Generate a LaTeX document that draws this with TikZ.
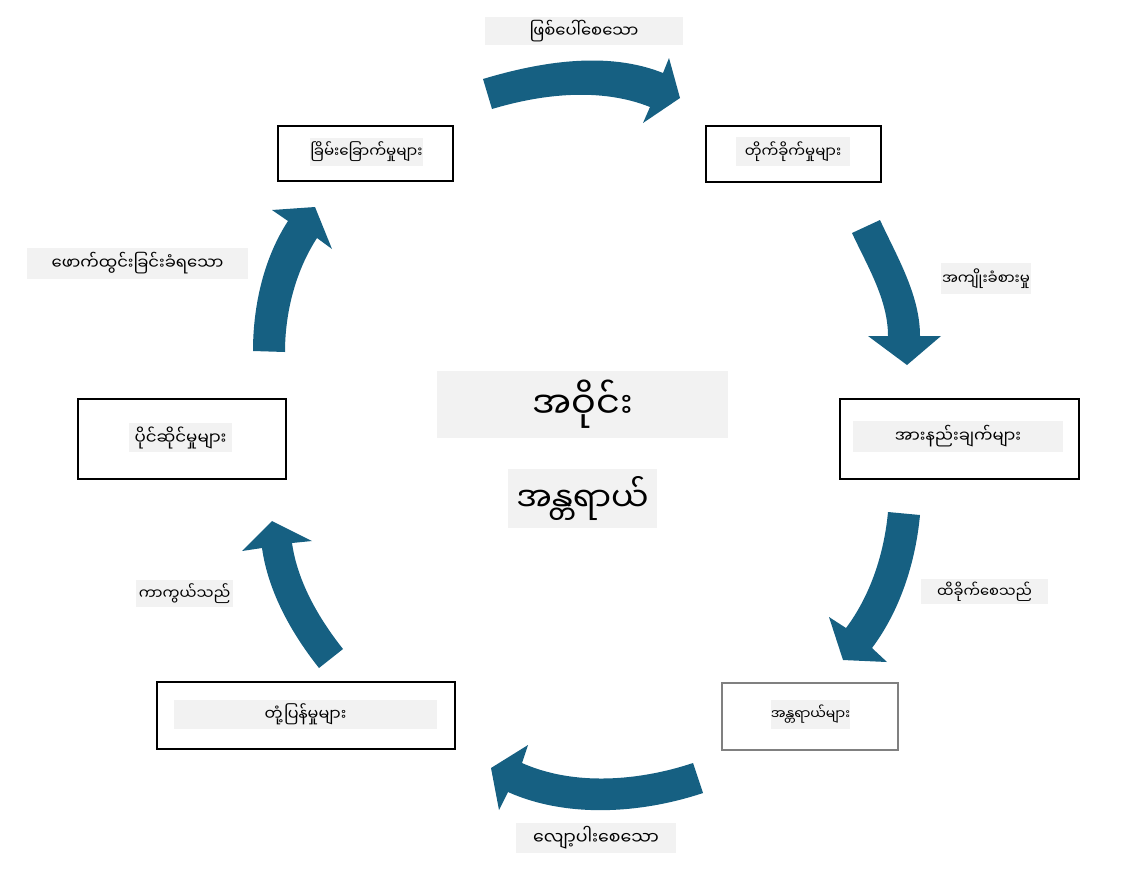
\documentclass[tikz,border=0pt]{standalone}
\usepackage{fontspec}
\newfontfamily\mya[Script=Myanmar]{Noto Sans Myanmar UI}
\definecolor{arrowblue}{RGB}{22,96,130}
\definecolor{bggray}{RGB}{242,242,242}
\begin{document}
\begin{tikzpicture}[x=0.75pt,y=-0.75pt,
  box/.style={draw=black, line width=0.8pt, inner sep=0pt},
  greybox/.style={draw=gray, line width=0.8pt, inner sep=0pt},
  bgtext/.style={fill=bggray, inner sep=0pt, font=\mya\fontsize{#1}{14}\selectfont},
  bgtext/.default=12.3,
  blockarrow/.style={fill=arrowblue, draw=none}]
\useasboundingbox (0,0) rectangle (1121,876);

% boxes
\node[box, minimum width={175*0.75pt}, minimum height={55*0.75pt}] (b1) at (365.5,153.5) {};
\node[box, minimum width={175*0.75pt}, minimum height={56*0.75pt}] (b2) at (793.5,154) {};
\node[box, minimum width={239*0.75pt}, minimum height={80*0.75pt}] (b3) at (959.5,439) {};
\node[greybox, minimum width={176*0.75pt}, minimum height={67*0.75pt}] (b4) at (810,716.5) {};
\node[box, minimum width={298*0.75pt}, minimum height={67*0.75pt}] (b5) at (306,715.5) {};
\node[box, minimum width={208*0.75pt}, minimum height={80*0.75pt}] (b6) at (182,439) {};

% box texts
\node[bgtext=11.3, minimum width={113*0.75pt}, minimum height={28*0.75pt}] (t1) at (366.5,152) {ခြိမ်းခြောက်မှုများ};
\node[bgtext=11.2, minimum width={114*0.75pt}, minimum height={29*0.75pt}] (t2) at (793,151.5) {တိုက်ခိုက်မှုများ};
\node[bgtext=12.3, minimum width={210*0.75pt}, minimum height={31*0.75pt}] (t3) at (958,436.5) {အားနည်းချက်များ};
\node[bgtext=10.4, minimum width={79*0.75pt}, minimum height={29*0.75pt}] (t4) at (810.5,714.5) {အန္တရာယ်များ};
\node[bgtext=12, minimum width={263*0.75pt}, minimum height={29*0.75pt}] (t5) at (305.5,714.5) {တုံ့ပြန်မှုများ};
\node[bgtext=12.5, minimum width={103*0.75pt}, minimum height={29*0.75pt}] (t6) at (180.5,437.5) {ပိုင်ဆိုင်မှုများ};

% arrow labels
\node[bgtext=12.3, minimum width={198*0.75pt}, minimum height={28*0.75pt}] (l1) at (584,31) {ဖြစ်ပေါ်စေသော};
\node[bgtext=11.2, minimum width={90*0.75pt}, minimum height={31*0.75pt}] (l2) at (986,278.5) {အကျိုးခံစားမှု};
\node[bgtext=11, minimum width={127*0.75pt}, minimum height={25*0.75pt}] (l3) at (984.5,591.5) {ထိခိုက်စေသည်};
\node[bgtext=13, minimum width={160*0.75pt}, minimum height={30*0.75pt}] (l4) at (596,838) {လျော့ပါးစေသော};
\node[bgtext=11.3, minimum width={97*0.75pt}, minimum height={27*0.75pt}] (l5) at (184.5,593.5) {ကာကွယ်သည်};
\node[bgtext=12.3, minimum width={221*0.75pt}, minimum height={31*0.75pt}] (l6) at (137.5,263.5) {ဖောက်ထွင်းခြင်းခံရသော};

% centre
\node[bgtext=27.5, minimum width={291*0.75pt}, minimum height={67*0.75pt}] (c1) at (582.5,404.5) {အဝိုင်း};
\node[bgtext=25, minimum width={149*0.75pt}, minimum height={59*0.75pt}] (c2) at (582.5,498.5) {အန္တရာယ်};

% block arrows
% top
\fill[blockarrow] (483,79) .. controls (540.5,61.7) and (607.3,50.7) .. (663,73)
  -- (669,58) -- (680,98) -- (643,123) -- (650,107)
  .. controls (601.1,87.4) and (542.5,93.8) .. (492,109) -- cycle;
% upper right
\fill[blockarrow] (852,233) -- (880,220) .. controls (897.2,257.1) and (920,295.1) .. (920,336)
  -- (941,336) -- (907,365) -- (868,336) -- (888,336)
  .. controls (888,299.6) and (867.3,266) .. (852,233) -- cycle;
% lower right
\fill[blockarrow] (888,512) .. controls (884.2,552.9) and (870.7,595.1) .. (846,628)
  -- (829,617) -- (843,660) -- (887,662) -- (872,648)
  .. controls (900.3,610.3) and (915.6,561.9) .. (920,515) -- cycle;
% bottom
\fill[blockarrow] (693,763) .. controls (638.9,781) and (574,786.2) .. (522,763)
  -- (528,745) -- (491,768) -- (499,810) -- (508,792)
  .. controls (567.3,818.5) and (641.3,813.5) .. (703,793) -- cycle;
% lower left
\fill[blockarrow] (319,668) .. controls (291.5,633.3) and (268.2,591.9) .. (262,548)
  -- (242,551) -- (272,521) -- (312,541) -- (292,543)
  .. controls (297.5,581.8) and (318.7,618.3) .. (343,649) -- cycle;
% upper left
\fill[blockarrow] (253,351) .. controls (253,306.1) and (263.5,258.6) .. (288,221)
  -- (272,210) -- (315,207) -- (332,249) -- (317,238)
  .. controls (295.5,271.1) and (285,312.5) .. (285,352) -- cycle;
\end{tikzpicture}
\end{document}
